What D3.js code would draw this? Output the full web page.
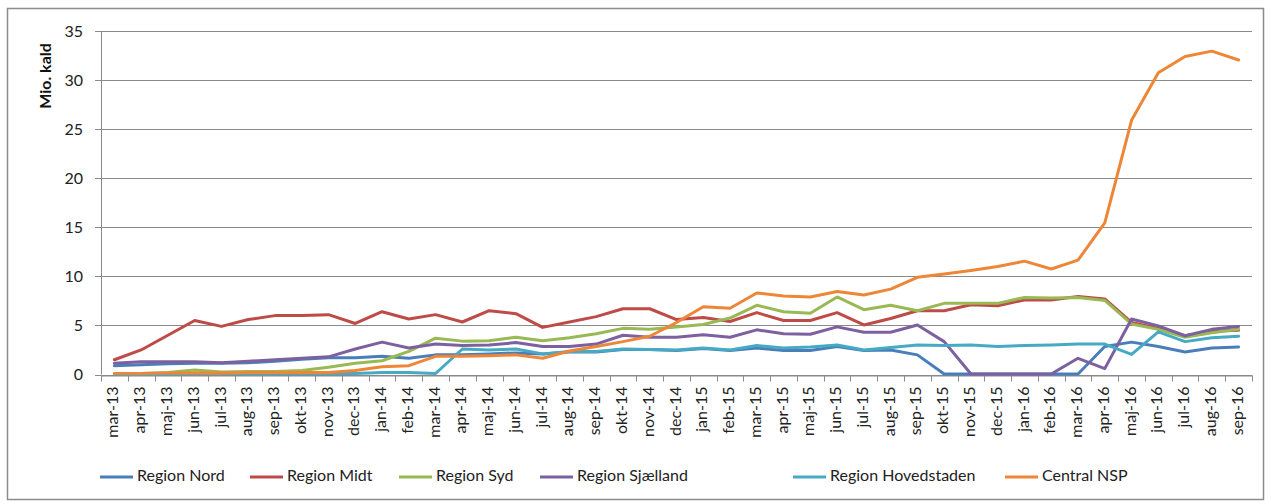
<!DOCTYPE html>
<html><head><meta charset="utf-8">
<script src="https://cdn.jsdelivr.net/npm/d3@7"></script>
<style>body{margin:0;background:#fff;}svg{display:block;font-family:Lato,"Liberation Sans",sans-serif;}</style>
</head><body><svg id="c" width="1271" height="504"></svg>
<script>
const categories = ["mar-13","apr-13","maj-13","jun-13","jul-13","aug-13","sep-13","okt-13","nov-13","dec-13",
"jan-14","feb-14","mar-14","apr-14","maj-14","jun-14","jul-14","aug-14","sep-14","okt-14","nov-14","dec-14",
"jan-15","feb-15","mar-15","apr-15","maj-15","jun-15","jul-15","aug-15","sep-15","okt-15","nov-15","dec-15",
"jan-16","feb-16","mar-16","apr-16","maj-16","jun-16","jul-16","aug-16","sep-16"];
const seriesNames = ["Region Nord","Region Midt","Region Syd","Region Sjælland","Region Hovedstaden","Central NSP"];
const regionNord = [0.9,1.0,1.1,1.15,1.15,1.2,1.35,1.55,1.7,1.7,1.85,1.65,2.0,2.0,2.1,2.2,2.1,2.3,2.3,2.55,2.55,2.45,2.65,2.45,2.7,2.45,2.45,2.85,2.45,2.5,2.0,0.05,0.05,0.05,0.05,0.05,0.05,2.85,3.3,2.85,2.3,2.7,2.8];
const regionMidt = [1.5,2.5,4.0,5.5,4.9,5.6,6.0,6.0,6.1,5.2,6.4,5.65,6.1,5.35,6.5,6.2,4.8,5.35,5.9,6.7,6.7,5.6,5.8,5.4,6.3,5.5,5.5,6.3,5.05,5.7,6.5,6.5,7.1,7.0,7.6,7.6,7.95,7.7,5.3,4.7,3.95,4.4,4.5];
const regionSyd = [0.1,0.1,0.2,0.45,0.25,0.3,0.3,0.4,0.75,1.15,1.4,2.35,3.7,3.4,3.45,3.8,3.45,3.75,4.15,4.7,4.6,4.85,5.1,5.75,7.05,6.4,6.25,7.9,6.6,7.05,6.5,7.25,7.25,7.25,7.85,7.8,7.85,7.55,5.15,4.6,3.8,4.25,4.6];
const regionSjaelland = [1.15,1.3,1.3,1.3,1.2,1.35,1.5,1.65,1.8,2.6,3.3,2.7,3.1,2.95,3.0,3.25,2.85,2.85,3.1,4.0,3.8,3.8,4.05,3.8,4.55,4.15,4.1,4.85,4.3,4.3,5.05,3.35,0.05,0.05,0.05,0.05,1.65,0.6,5.65,4.95,3.95,4.6,4.9];
const regionHovedstaden = [0.0,0.0,0.05,0.1,0.1,0.1,0.1,0.1,0.1,0.1,0.2,0.2,0.1,2.6,2.5,2.6,2.1,2.35,2.35,2.6,2.55,2.5,2.7,2.5,2.95,2.7,2.8,3.0,2.5,2.75,3.0,2.95,3.0,2.85,2.95,3.0,3.1,3.1,2.05,4.35,3.35,3.75,3.9];
const centralNSP = [0.1,0.1,0.15,0.15,0.15,0.2,0.2,0.2,0.2,0.4,0.8,0.9,1.85,1.85,1.9,2.0,1.65,2.4,2.85,3.35,3.9,5.3,6.9,6.75,8.3,8.0,7.9,8.45,8.1,8.7,9.9,10.25,10.6,11.0,11.55,10.75,11.65,15.45,25.9,30.75,32.4,32.95,32.05];
const yTicks = [0,5,10,15,20,25,30,35];
const yTitle = "Mio. kald";

const seriesValues = [regionNord, regionMidt, regionSyd, regionSjaelland, regionHovedstaden, centralNSP];
const colors = ["#4A7EBB","#BE4B48","#98B954","#7D60A0","#46AAC5","#EE8638"];

const svg = d3.select("#c");
const L = 101, R = 1252, T = 31, B = 374.5;
const x = d3.scaleBand().domain(categories).range([L, R]).padding(0);
const y = d3.scaleLinear().domain([0, 35]).range([B, T]);
const cx = d => x(d) + x.bandwidth() / 2;

// outer border
svg.append("rect").attr("x", 7.5).attr("y", 8.5).attr("width", 1256).attr("height", 491)
  .attr("fill", "#fff").attr("stroke", "#8c8c8c").attr("stroke-width", 1.5);

// gridlines
svg.append("g").selectAll("line").data(yTicks).join("line")
  .attr("x1", L - 6).attr("x2", R)
  .attr("y1", d => Math.round(y(d)) + 0.5).attr("y2", d => Math.round(y(d)) + 0.5)
  .attr("stroke", "#8a8a8a").attr("stroke-width", 1);

// y axis
const yAxis = d3.axisLeft(y).tickValues(yTicks).tickSize(0).tickPadding(18);
const gy = svg.append("g").attr("transform", `translate(${L},0)`).call(yAxis);
gy.select(".domain").remove();
gy.selectAll("text").attr("font-size", 16).attr("fill", "#222").attr("font-family", "Lato");
svg.append("line").attr("x1", L + 0.5).attr("x2", L + 0.5).attr("y1", T).attr("y2", B)
  .attr("stroke", "#8a8a8a");

// x axis
const xAxis = d3.axisBottom(x).tickSize(0).tickPadding(0);
const gx = svg.append("g").attr("transform", `translate(0,${Math.round(B) + 0.5})`).call(xAxis);
gx.select(".domain").attr("stroke", "#8a8a8a");
gx.selectAll(".tick text")
  .attr("transform", "rotate(-90)")
  .attr("text-anchor", "end").attr("dominant-baseline", "middle")
  .attr("x", -11).attr("y", 0).attr("dy", null)
  .attr("font-size", 16).attr("fill", "#222").attr("font-family", "Lato");
const bounds = categories.map(c => x(c)).concat([R]);
gx.append("g").selectAll("line").data(bounds).join("line")
  .attr("x1", d => Math.round(d) + 0.5).attr("x2", d => Math.round(d) + 0.5)
  .attr("y1", 0).attr("y2", 6).attr("stroke", "#8a8a8a");

// y title
svg.append("text").attr("transform", "translate(51,76) rotate(-90)")
  .attr("text-anchor", "middle").attr("font-weight", "bold").attr("font-size", 16)
  .attr("fill", "#111").text(yTitle);

// lines
const line = d3.line().x((d, i) => cx(categories[i])).y(d => y(d)).curve(d3.curveLinear);
svg.append("g").selectAll("path").data(seriesValues).join("path")
  .attr("d", d => line(d)).attr("fill", "none")
  .attr("stroke", (d, i) => colors[i]).attr("stroke-width", 3)
  .attr("stroke-linejoin", "round").attr("stroke-linecap", "round");

// legend
const legX = [100, 250, 399, 540, 793, 1005];
const lg = svg.append("g").selectAll("g").data(seriesNames).join("g")
  .attr("transform", (d, i) => `translate(${legX[i]},477)`);
lg.append("line").attr("x1", 0).attr("x2", 33).attr("y1", 0).attr("y2", 0)
  .attr("stroke", (d, i) => colors[i]).attr("stroke-width", 3);
lg.append("text").attr("x", 37).attr("y", 0).attr("dominant-baseline", "middle")
  .attr("font-size", 16).attr("fill", "#222").text(d => d);
</script></body></html>
